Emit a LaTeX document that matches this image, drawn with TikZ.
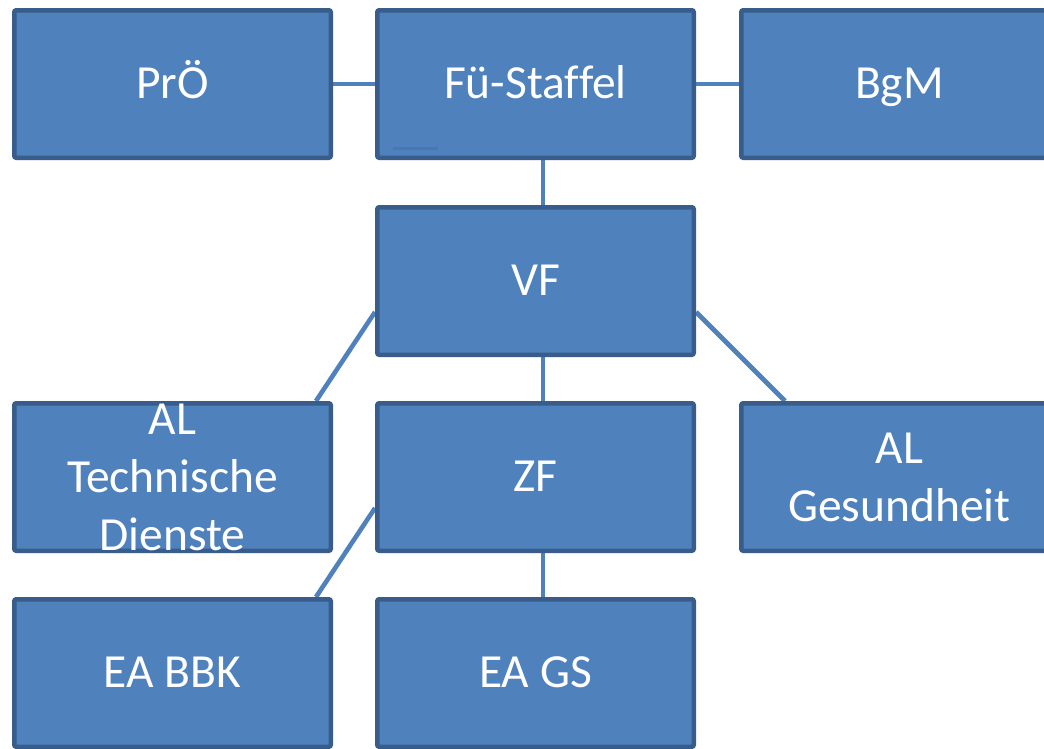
\documentclass[tikz,border=0pt]{standalone}
\usepackage{fontspec}
\setmainfont{Carlito}[Ligatures=NoCommon]
\usetikzlibrary{calc,backgrounds}
\definecolor{boxfill}{RGB}{79,129,189}
\definecolor{boxline}{RGB}{56,93,138}
\definecolor{markcol}{RGB}{72,120,178}
\tikzset{
  orgbox/.style={draw=boxline, fill=boxfill, line width=4.5pt, rounded corners=2pt,
    minimum width=316.5pt, minimum height=147.5pt, inner sep=0pt,
    text=white, align=center, font=\fontsize{47.5}{58}\selectfont},
  oneline/.style={text height=29pt, text depth=0pt},
  conn/.style={draw=boxfill, line width=4.6pt}
}
\begin{document}
\begin{tikzpicture}[x=1pt,y=-1pt]
\useasboundingbox (0,0) rectangle (1044,748);
\clip (0,0) rectangle (1044,748);
\node[orgbox,oneline] (pro) at (172.5,84) {PrÖ};
\node[orgbox,oneline] (fu)  at (535.5,84) {Fü-Staffel};
\node[orgbox,oneline] (bgm) at (899.5,84) {BgM};
\node[orgbox,oneline] (vf)  at (535.5,281) {VF};
\node[orgbox] (altd) at (172.5,477) {AL\\Technische\\Dienste};
\node[orgbox,oneline] (zf)  at (535.5,477) {ZF};
\node[orgbox] (alg) at (899.5,477) {AL\\Gesundheit};
\node[orgbox,oneline] (eabbk) at (172.5,673) {EA BBK};
\node[orgbox,oneline] (eags)  at (535.5,673) {EA GS};
\draw[draw=markcol, line width=3pt] ($(fu.south west)+(18,-11.5)$) -- ($(fu.south west)+(63,-11.5)$);
\begin{scope}[on background layer]
\fill[white] (0,0) rectangle (1044,748);
\draw[conn] (pro.east) -- (fu.west);
\draw[conn] (fu.east) -- (bgm.west);
\draw[conn] ($(fu.south)+(7.5,0)$) -- ($(vf.north)+(7.5,0)$);
\draw[conn] ($(vf.south)+(7.5,0)$) -- ($(zf.north)+(7.5,0)$);
\draw[conn] ($(zf.south)+(7.5,0)$) -- ($(eags.north)+(7.5,0)$);
\draw[conn] ($(vf.west)+(0,31)$) -- ($(altd.north)+(143.5,0)$);
\draw[conn] ($(vf.east)+(0,31)$) -- ($(alg.north)+(-114.5,0)$);
\draw[conn] ($(zf.west)+(0,31)$) -- ($(eabbk.north)+(143.5,0)$);
\end{scope}
\end{tikzpicture}
\end{document}
